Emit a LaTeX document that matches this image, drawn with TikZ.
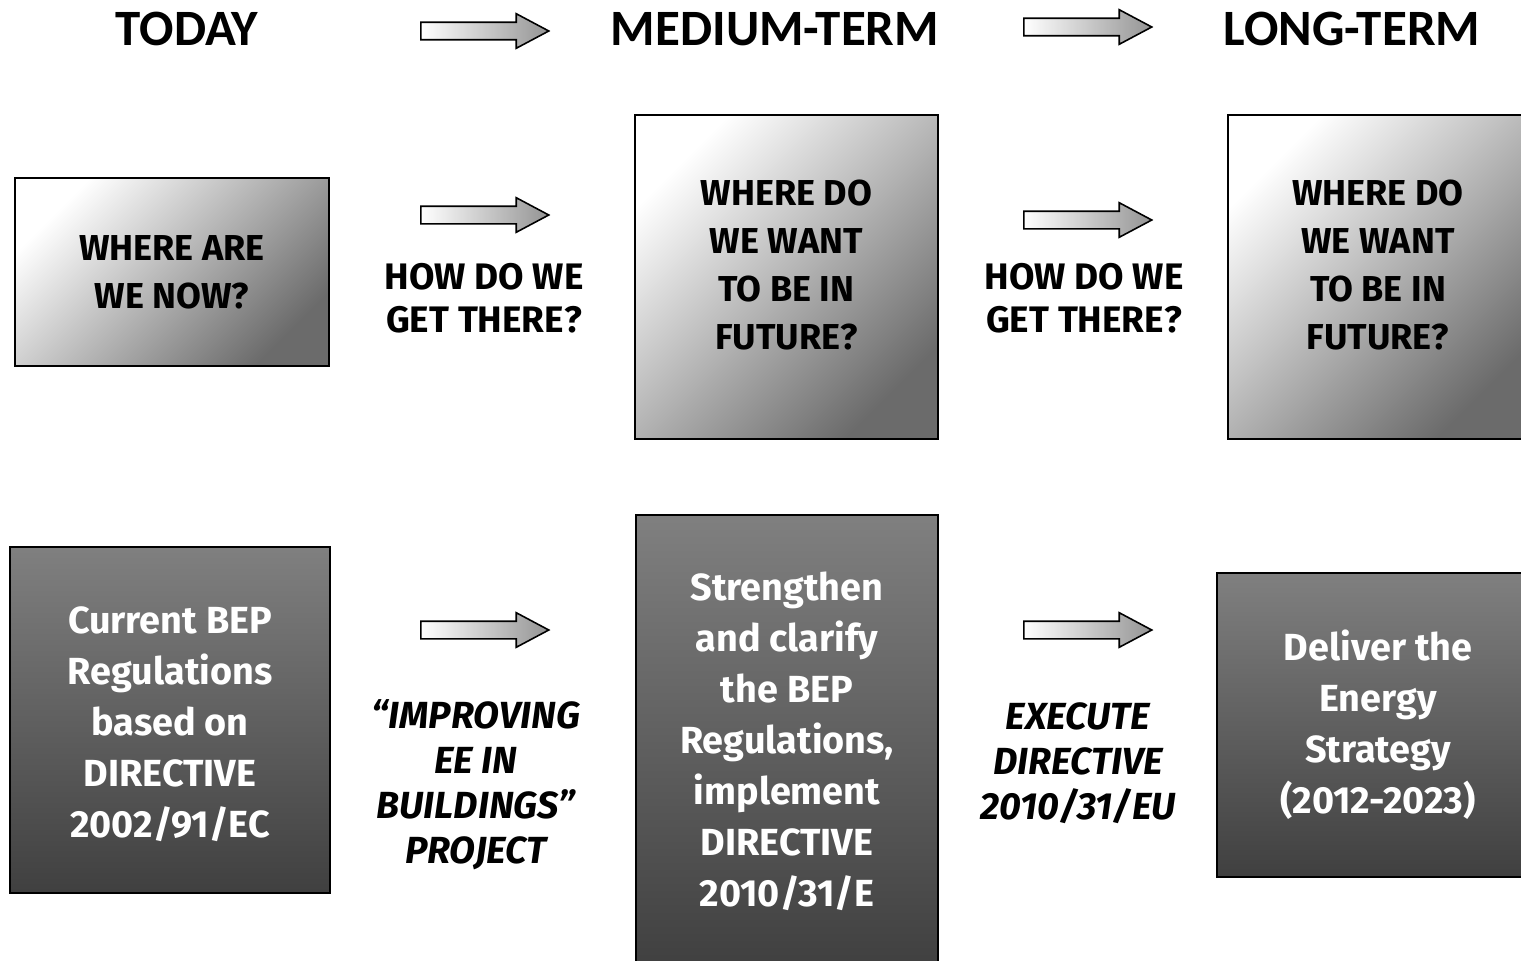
\documentclass[tikz,border=0pt]{standalone}
\usepackage{fontspec}
\setmainfont{Fira Sans}
\newfontfamily\headfont{Carlito}
\usetikzlibrary{shapes.arrows}
\definecolor{askLight}{gray}{1.0}
\definecolor{askDark}{gray}{0.42}
\definecolor{doTop}{gray}{0.50}
\definecolor{doBottom}{gray}{0.25}
\definecolor{arrowDark}{gray}{0.58}
\begin{document}
\begin{tikzpicture}
[x=0.02cm, y=-0.02cm,
  titleDecorate/.style={font=\headfont\bfseries\fontsize{29}{32}\selectfont},
  askDecorate/.style={draw=black, line width=1.4pt, shading=axis,
    top color=askLight, bottom color=askDark, shading angle=45,
    align=center, inner sep=0pt,
    font=\bfseries\fontsize{20.5}{27.5}\selectfont},
  askText/.style={align=center, inner sep=0pt,
    font=\bfseries\fontsize{20.5}{27.5}\selectfont},
  doDecorate/.style={draw=black, line width=1.4pt, top color=doTop,
    bottom color=doBottom, text=white, align=center, inner sep=0pt,
    font=\bfseries\fontsize{21.5}{29}\selectfont},
  doText/.style={text=white, align=center, inner sep=0pt,
    font=\bfseries\fontsize{21.5}{29}\selectfont},
  howDecorate/.style={align=center,
    font=\bfseries\fontsize{21}{24.5}\selectfont},
  stepDecorate/.style={align=center,
    font=\bfseries\itshape\fontsize{21.5}{25.6}\selectfont},
  arrowDecorate/.style={shape=single arrow, draw=black, line width=0.9pt,
    left color=white, right color=arrowDark, anchor=tail,
    inner xsep=0pt, inner ysep=0.16cm, minimum height=2.56cm,
    single arrow head extend=0.17cm, single arrow tip angle=56}]
\useasboundingbox (0,0) rectangle (1521,960);
\clip (0,0) rectangle (1521,960);
%% column titles
\foreach \nodename/\x/\txt in {
  today/187/TODAY, medium/775/MEDIUM-TERM, long/1352/LONG-TERM}
{
  \node (\nodename) at (\x,29) [titleDecorate] {\txt};
}
%% block arrows
\foreach \nodename/\x/\y in {
  arTitleA/420/31, arTitleB/1023/27, arAskA/420/215,
  arAskB/1023/220, arDoA/420/630, arDoB/1023/630}
{
  \node (\nodename) at (\x,\y) [arrowDecorate] {};
}
%% question row
\node (now) at (172,272) [askDecorate, minimum width=6.28cm,
  minimum height=3.76cm] {WHERE ARE\\WE NOW?};
\node (futureA) at (786.5,277) [askDecorate, minimum width=6.06cm,
  minimum height=6.48cm] {};
\node (futureAText) at (786.5,265) [askText]
  {WHERE DO\\WE WANT\\TO BE IN\\FUTURE?};
\node (futureB) at (1378,277) [askDecorate, minimum width=6.0cm,
  minimum height=6.48cm] {};
\node (futureBText) at (1378,265) [askText]
  {WHERE DO\\WE WANT\\TO BE IN\\FUTURE?};
\node (howA) at (484,298) [howDecorate] {HOW DO WE\\GET THERE?};
\node (howB) at (1084,298) [howDecorate] {HOW DO WE\\GET THERE?};
%% action row
\node (current) at (170,720) [doDecorate, minimum width=6.4cm,
  minimum height=6.92cm] {};
\node (currentText) at (170,724) [doText]
  {Current BEP\\Regulations\\based on\\DIRECTIVE\\2002/91/EC};
\node (strengthen) at (787,741) [doDecorate, minimum width=6.04cm,
  minimum height=9.04cm]
  {Strengthen\\and clarify\\the BEP\\Regulations,\\implement\\DIRECTIVE\\2010/31/E};
\node (deliver) at (1378,725) [doDecorate, minimum width=6.44cm,
  minimum height=6.08cm]
  {Deliver the\\Energy\\Strategy\\(2012-2023)};
\node (improving) at (476,785) [stepDecorate]
  {“IMPROVING\\EE IN\\BUILDINGS”\\PROJECT};
\node (execute) at (1078,763) [stepDecorate]
  {EXECUTE\\DIRECTIVE\\2010/31/EU};
\end{tikzpicture}
\end{document}
